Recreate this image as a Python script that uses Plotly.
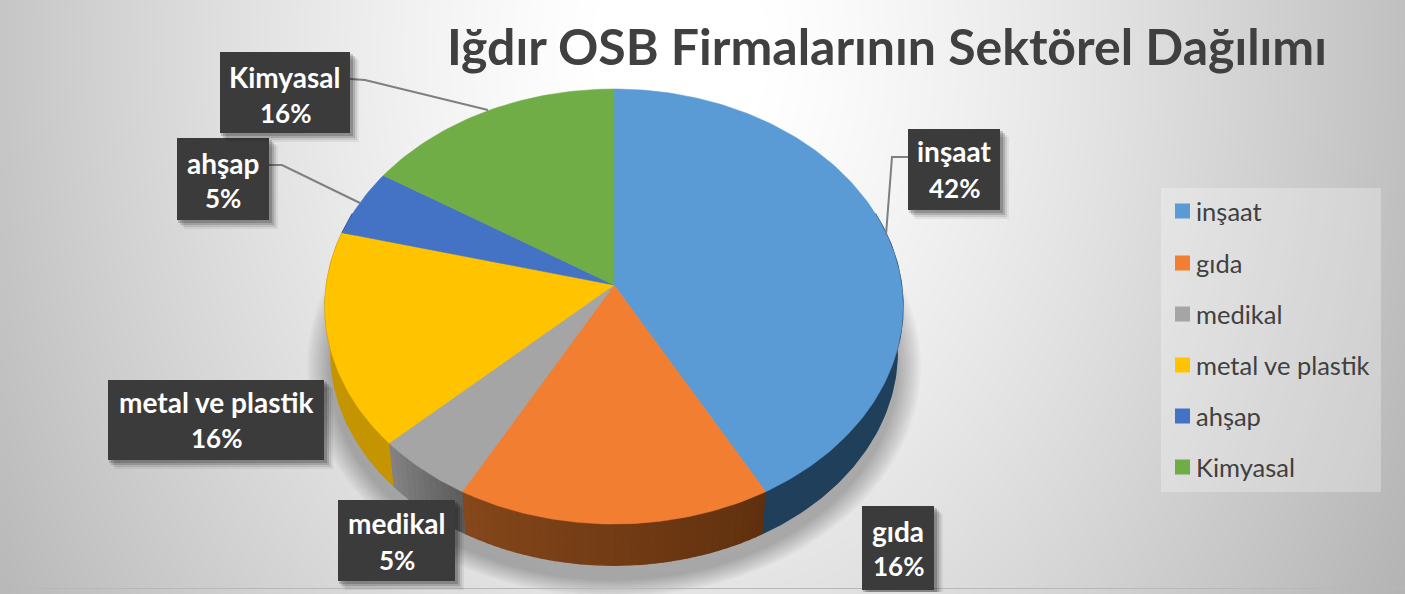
import numpy as np
import plotly.graph_objects as go

# --- chart data ---
categories = ["inşaat", "gıda", "medikal", "metal ve plastik", "ahşap", "Kimyasal"]
shares = [42, 16, 5, 16, 5, 16]
top_colors = ["#5B9BD5", "#F27E32", "#A5A5A5", "#FFC300", "#4472C4", "#70AD47"]
wall_start = ["#203F5B", "#5F300E", "#5C5C5C", "#C49500", "#27426F", "#41662A"]
wall_end = ["#203F5B", "#86471B", "#848484", "#C49500", "#27426F", "#41662A"]
title_text = "Iğdır OSB Firmalarının Sektörel Dağılımı"

# --- label layout (box x0, y0, x1, y1; name y; percent y) ---
label_boxes = [(908, 129, 1000, 210), (862, 506, 934, 590), (338, 500, 455, 581),
               (108, 380, 324, 460), (177, 138, 269, 220), (220, 52, 350, 133)]
label_name_y = [151, 531, 523, 402, 163, 77]
label_pct_y = [188, 566, 560, 438, 198, 113]
leaders = {0: ([908, 892, 886], [157, 157, 235]),
           4: ([269, 282, 360], [165, 165, 203]),
           5: ([350, 365, 488], [79, 80, 110])}
legend_y = [211, 263, 314, 365, 416, 467]

W, H = 1405, 594
APEX_X, APEX_Y = 614, 285
K, A_SCALE, B_SCALE = 0.0989, 287.6, 215.4
WALL_S, ELL_CY, WALL_CY = 0.98, 306.5, 352


def top_pt(deg):
    """Project a clockwise-from-top pie angle to the tilted top face."""
    r = np.radians(deg)
    u, v = np.sin(r), np.cos(r)
    d = 1 + K * v
    return APEX_X + A_SCALE * u / d, APEX_Y - B_SCALE * v / d


def bottom_pt(deg):
    x, y = top_pt(deg)
    return APEX_X + WALL_S * (x - APEX_X), WALL_CY + WALL_S * (y - ELL_CY)


def mix(c1, c2, t):
    a = [int(c1[i:i + 2], 16) for i in (1, 3, 5)]
    b = [int(c2[i:i + 2], 16) for i in (1, 3, 5)]
    return "rgb(%d,%d,%d)" % tuple(round(p + (q - p) * t) for p, q in zip(a, b))


fig = go.Figure()

# background gradient
gx = np.linspace(4, W, 71)
gy = np.linspace(0, 588, 31)
X, Y = np.meshgrid(gx, gy)
T = np.sqrt(((X - 680) / 750) ** 2 + ((Y - 50) / 1000) ** 2)
Z = 255 - 75 * np.clip(T - 0.1, 0, None) ** 1.25
fig.add_trace(go.Heatmap(x=gx, y=gy, z=Z, zmin=0, zmax=255, zsmooth="best",
                         colorscale=[[0, "#000000"], [1, "#FFFFFF"]],
                         showscale=False, hoverinfo="skip"))

# soft shadow under the pie
th = np.radians(np.linspace(0, 360, 181))
for e in range(2, 26, 2):
    fig.add_trace(go.Scatter(x=614 + (283 + e) * np.cos(th),
                             y=366 + (213 + e * 0.75) * np.sin(th),
                             mode="lines", fill="toself", line_width=0,
                             fillcolor="rgba(0,0,0,0.024)",
                             showlegend=False, hoverinfo="skip"))

edges = np.cumsum([0] + shares) * 3.6

# side walls
for i, c in enumerate(categories):
    a0, a1 = max(edges[i], 70), min(edges[i + 1], 290)
    if a1 <= a0:
        continue
    n = 1 if wall_start[i] == wall_end[i] else max(1, int((a1 - a0) / 1.5))
    steps = np.linspace(a0, a1, n + 1)
    for j in range(n):
        arc = np.linspace(steps[j], steps[j + 1], max(3, int(steps[j + 1] - steps[j]) + 2))
        tx, ty = top_pt(arc)
        bx, by = bottom_pt(arc)
        col = mix(wall_start[i], wall_end[i], (j + 0.5) / n)
        fig.add_trace(go.Scatter(x=np.r_[tx, bx[::-1]], y=np.r_[ty, by[::-1]],
                                 mode="lines", fill="toself",
                                 line=dict(width=1.4, color=col), fillcolor=col,
                                 showlegend=False, hoverinfo="skip"))

# top faces
for i, c in enumerate(categories):
    arc = np.linspace(edges[i], edges[i + 1], int(shares[i] * 3.6) + 2)
    tx, ty = top_pt(arc)
    fig.add_trace(go.Scatter(x=np.r_[APEX_X, tx, APEX_X], y=np.r_[APEX_Y, ty, APEX_Y],
                             mode="lines", fill="toself", name=c,
                             line=dict(width=0.5, color=top_colors[i]),
                             fillcolor=top_colors[i], showlegend=False,
                             hovertemplate=f"{c}: {shares[i]}%<extra></extra>"))

# leader lines
for i, (lx, ly) in leaders.items():
    fig.add_trace(go.Scatter(x=lx, y=ly, mode="lines",
                             line=dict(color="#7F7F7F", width=2),
                             showlegend=False, hoverinfo="skip"))

# legend panel and swatches
fig.add_trace(go.Scatter(x=[1161, 1381, 1381, 1161, 1161], y=[188, 188, 492, 492, 188],
                         mode="lines", fill="toself", line_width=0,
                         fillcolor="rgba(255,255,255,0.28)",
                         showlegend=False, hoverinfo="skip"))
fig.add_trace(go.Scatter(x=[1182.5] * len(categories), y=legend_y, mode="markers",
                         marker=dict(symbol="square", size=15, color=top_colors, line_width=0),
                         showlegend=False, hoverinfo="skip"))

shapes = [
    dict(type="line", x0=4, x1=W, y0=588.5, y1=588.5,
         line=dict(color="#B8B8B8", width=1)),
]
annotations = []
for i, c in enumerate(categories):
    x0, y0, x1, y1 = label_boxes[i]
    for off, alpha in ((9, 0.06), (7, 0.09), (5, 0.14), (3, 0.18)):
        shapes.append(dict(type="rect", x0=x0 + off - 2, y0=y0 + off - 1, x1=x1 + off,
                           y1=min(y1 + off, 592), line_width=0,
                           fillcolor=f"rgba(0,0,0,{alpha})"))
    shapes.append(dict(type="rect", x0=x0, y0=y0, x1=x1, y1=y1, line_width=0,
                       fillcolor="#3B3B3B"))
    xc = (x0 + x1) / 2
    for txt, yy, sz in ((c, label_name_y[i], 28), (f"{shares[i]}%", label_pct_y[i], 26)):
        annotations.append(dict(x=xc, y=yy, text=txt, showarrow=False,
                                xanchor="center", yanchor="middle",
                                font=dict(family="Lato", size=sz, color="#FFFFFF", weight=700)))
    # legend entry
    annotations.append(dict(x=1194, y=legend_y[i], text=c, showarrow=False,
                            xanchor="left", yanchor="middle",
                            font=dict(family="Lato", size=25.5, color="#404040")))

fig.update_layout(
    width=W, height=H, autosize=False,
    margin=dict(l=0, r=0, t=0, b=0),
    paper_bgcolor="#FFFFFF", plot_bgcolor="rgba(0,0,0,0)",
    xaxis=dict(range=[0, W], visible=False, fixedrange=True),
    yaxis=dict(range=[H, 0], visible=False, fixedrange=True),
    title=dict(text=title_text, x=887 / W, xref="paper", xanchor="center",
               y=1 - 47 / H, yref="paper", yanchor="middle",
               font=dict(family="Lato", size=50, color="#404040", weight=700)),
    shapes=shapes, annotations=annotations,
)

fig.write_html("out.html", config={"displayModeBar": False},
               post_script="document.body.style.margin='0';document.body.style.overflow='hidden';")
